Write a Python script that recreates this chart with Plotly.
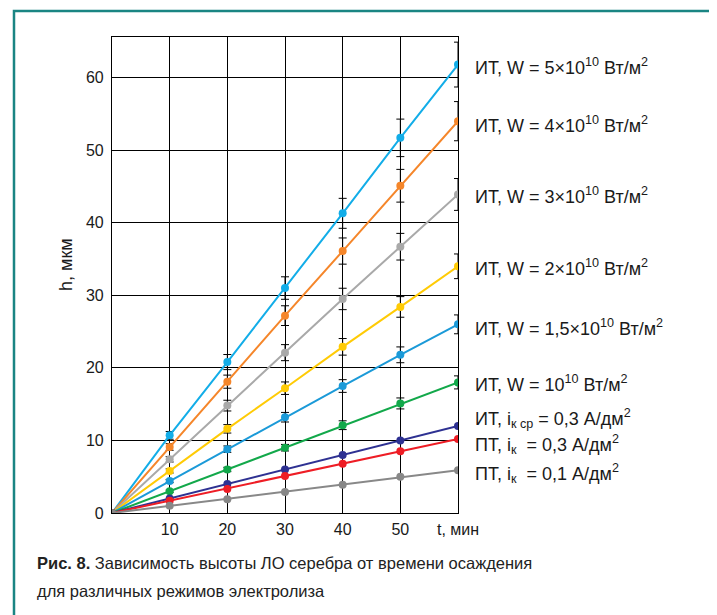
import plotly.graph_objects as go

t_min = [0, 10, 20, 30, 40, 50, 60]

series_labels = [
    "ИТ, W = 5×10<sup>10</sup> Вт/м<sup>2</sup>",
    "ИТ, W = 4×10<sup>10</sup> Вт/м<sup>2</sup>",
    "ИТ, W = 3×10<sup>10</sup> Вт/м<sup>2</sup>",
    "ИТ, W = 2×10<sup>10</sup> Вт/м<sup>2</sup>",
    "ИТ, W = 1,5×10<sup>10</sup> Вт/м<sup>2</sup>",
    "ИТ, W = 10<sup>10</sup> Вт/м<sup>2</sup>",
    "ИТ, i<sub>к ср</sub> = 0,3 А/дм<sup>2</sup>",
    "ПТ, i<sub>к</sub>  = 0,3 А/дм<sup>2</sup>",
    "ПТ, i<sub>к</sub>  = 0,1 А/дм<sup>2</sup>",
]

h_w5 = [0, 10.7, 20.8, 31.0, 41.3, 51.7, 61.8]
h_w4 = [0, 9.1, 18.1, 27.2, 36.1, 45.1, 54.0]
h_w3 = [0, 7.4, 14.8, 22.1, 29.5, 36.7, 43.9]
h_w2 = [0, 5.8, 11.6, 17.2, 22.9, 28.4, 34.0]
h_w15 = [0, 4.4, 8.8, 13.2, 17.5, 21.8, 26.0]
h_w1 = [0, 3.0, 6.0, 9.0, 12.1, 15.1, 18.0]
h_it03 = [0, 2.0, 4.0, 6.0, 8.0, 10.0, 12.0]
h_pt03 = [0, 1.7, 3.3, 5.1, 6.8, 8.5, 10.2]
h_pt01 = [0, 1.0, 1.9, 2.9, 3.9, 5.0, 5.9]

series_values = [h_w5, h_w4, h_w3, h_w2, h_w15, h_w1, h_it03, h_pt03, h_pt01]
error_percent = [5, 5, 5, 5, 5, 5, 0, 0, 0]
label_y = [61.5, 53.6, 43.7, 33.8, 25.6, 17.8, 13.0, 9.5, 5.5]

colors = ["#12ade8", "#f5862a", "#a9a9a9", "#ffcb05", "#1b9ad8",
          "#12a84a", "#2e3192", "#ee1d25", "#888888"]

x_ticks = [10, 20, 30, 40, 50, 60]
x_tick_text = ["10", "20", "30", "40", "50", "t, мин"]
y_ticks = [0, 10, 20, 30, 40, 50, 60]

OFF = 7  # page offset of the figure inside the browser window
W, H = 717, 615
L, R, T, B = 111 - OFF, 457 - OFF, 36 - OFF, 512 - OFF
pw, ph = R - L, B - T

def px_x(p):
    return (p - OFF - L) / pw

def px_y(p):
    return (B - (p - OFF)) / ph

fig = go.Figure()
for vals, col, ep in zip(series_values, colors, error_percent):
    err = None
    if ep:
        err = dict(type="percent", value=ep, color="black", thickness=1, width=4)
    fig.add_trace(go.Scatter(
        x=t_min, y=vals, mode="lines+markers",
        line=dict(color=col, width=2),
        marker=dict(color=col, size=8),
        error_y=err, showlegend=False,
    ))

font = "Liberation Sans, Arial, sans-serif"
for lab, yv in zip(series_labels, label_y):
    fig.add_annotation(x=px_x(472), xref="paper", y=yv, yref="y",
                       text=lab, showarrow=False, xanchor="left", yanchor="middle",
                       font=dict(family=font, size=18, color="#1a1a1a"))

fig.add_annotation(x=px_x(65), xref="paper", y=px_y(264), yref="paper",
                   text="h, мкм", textangle=-90, showarrow=False,
                   xanchor="center", yanchor="middle",
                   font=dict(family=font, size=18, color="#1a1a1a"))

fig.add_annotation(x=px_x(34), xref="paper", y=px_y(562), yref="paper",
                   text="<b>Рис. 8.</b> Зависимость высоты ЛО серебра от времени осаждения",
                   showarrow=False, xanchor="left", yanchor="middle",
                   font=dict(family=font, size=16.5, color="#222222"))
fig.add_annotation(x=px_x(34), xref="paper", y=px_y(590), yref="paper",
                   text="для различных режимов электролиза",
                   showarrow=False, xanchor="left", yanchor="middle",
                   font=dict(family=font, size=16.5, color="#222222"))

fig.add_shape(type="rect", xref="paper", yref="paper",
              x0=px_x(13), x1=px_x(713), y0=px_y(660), y1=px_y(10),
              line=dict(color="#1a8583", width=2.5), layer="below")

fig.update_xaxes(range=[0, 60], tickvals=x_ticks, ticktext=x_tick_text,
                 showgrid=True, gridcolor="black", gridwidth=1.2,
                 showline=True, linecolor="black", linewidth=1.2, mirror=True,
                 zeroline=False, ticks="", ticklabelstandoff=2,
                 tickfont=dict(family=font, size=16, color="#1a1a1a"))
fig.update_yaxes(range=[0, 65.6], tickvals=y_ticks,
                 showgrid=True, gridcolor="black", gridwidth=1.2,
                 showline=True, linecolor="black", linewidth=1.2, mirror=True,
                 zeroline=False, ticks="", ticklabelstandoff=4,
                 tickfont=dict(family=font, size=16, color="#1a1a1a"))

fig.update_layout(width=W, height=H,
                  margin=dict(l=L, r=W - R, t=T, b=H - B),
                  paper_bgcolor="white", plot_bgcolor="white")

fig.write_html("out.html")
